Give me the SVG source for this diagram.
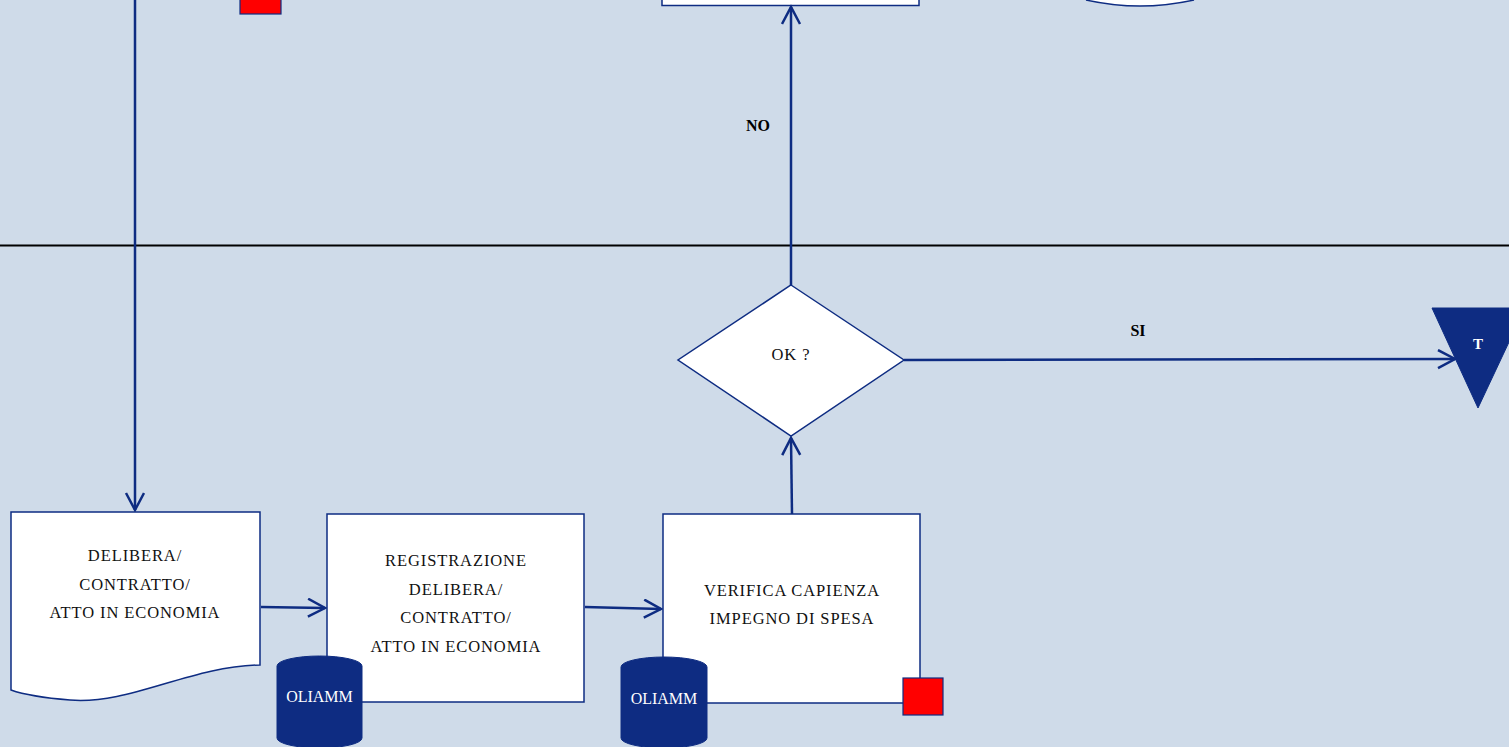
<svg xmlns="http://www.w3.org/2000/svg" width="1509" height="747" viewBox="0 0 1509 747">
<style>
.bg{fill:#CFDBE9}
.box{fill:#FFFFFF;stroke:#0E2C82;stroke-width:1.5}
.conn{fill:none;stroke:#0E2C82;stroke-width:2.5}
.lbl{font-family:"Liberation Serif",serif;font-size:16.5px;fill:#111111;text-anchor:middle;letter-spacing:0.9px}
.bold{font-family:"Liberation Serif",serif;font-size:16px;font-weight:bold;fill:#000;text-anchor:middle}
.db{fill:#0E2C82;stroke:#0E2C82;stroke-width:1}
.dbt{font-family:"Liberation Serif",serif;font-size:16px;fill:#FFFFFF;text-anchor:middle}
.red{fill:#FF0000;stroke:#0E2C82;stroke-width:1.2}
</style>
<defs>
<marker id="arr" markerUnits="userSpaceOnUse" markerWidth="24" markerHeight="24" refX="18" refY="10" orient="auto" viewBox="0 0 24 24">
<path d="M1,1 L18,10 L1,19" fill="none" stroke="#0E2C82" stroke-width="2.5"/>
</marker>
</defs>
<rect class="bg" x="0" y="0" width="1509" height="747"/>
<line x1="0" y1="245.5" x2="1509" y2="245.5" stroke="#000" stroke-width="2"/>

<g id="top-square"><rect class="red" x="240" y="-5" width="41" height="19"/></g>
<g id="top-box"><rect class="box" x="662" y="-10" width="257" height="15.5"/></g>
<g id="top-curve"><path d="M1086,0 Q1140,12 1194,0" fill="#FFFFFF" stroke="#0E2C82" stroke-width="1.5"/></g>

<g id="connectors">
<line class="conn" x1="135" y1="0" x2="135" y2="510" marker-end="url(#arr)"/>
<line class="conn" x1="791" y1="285" x2="791" y2="7" marker-end="url(#arr)"/>
<line class="conn" x1="904" y1="360" x2="1455" y2="359" marker-end="url(#arr)"/>
<line class="conn" x1="261" y1="607" x2="325" y2="608" marker-end="url(#arr)"/>
<line class="conn" x1="585" y1="607" x2="661" y2="609" marker-end="url(#arr)"/>
<line class="conn" x1="792" y1="514" x2="791" y2="438" marker-end="url(#arr)"/>
<text class="bold" x="758" y="131">NO</text>
<text class="bold" x="1138" y="336">SI</text>
</g>

<g id="decision">
<polygon class="box" points="791,285 904,360 791,436 678,360"/>
<text class="lbl" x="791" y="360" font-size="15">OK ?</text>
</g>

<g id="terminator">
<polygon points="1432,308 1525,308 1478,408" fill="#0E2C82" stroke="#0E2C82" stroke-width="1"/>
<text x="1478" y="349" font-family="Liberation Serif,serif" font-size="15" font-weight="bold" fill="#FFFFFF" text-anchor="middle">T</text>
</g>

<g id="document">
<path class="box" d="M11,512 L260,512 L260,665 C190,666 130,705 70,700 C45,698 25,695 11,690 Z"/>
<text class="lbl" x="135" y="561">DELIBERA/</text>
<text class="lbl" x="135" y="590">CONTRATTO/</text>
<text class="lbl" x="135" y="618">ATTO IN ECONOMIA</text>
</g>

<g id="registrazione">
<rect class="box" x="327" y="514" width="257" height="188"/>
<text class="lbl" x="456" y="566">REGISTRAZIONE</text>
<text class="lbl" x="456" y="595">DELIBERA/</text>
<text class="lbl" x="456" y="623">CONTRATTO/</text>
<text class="lbl" x="456" y="652">ATTO IN ECONOMIA</text>
</g>

<g id="db1">
<path class="db" d="M277,666 A42.5,10 0 0 1 362,666 L362,738 A42.5,10 0 0 1 277,738 Z"/>
<text class="dbt" x="319.5" y="702">OLIAMM</text>
</g>

<g id="verifica">
<rect class="box" x="663" y="514" width="257" height="189"/>
<text class="lbl" x="792" y="596">VERIFICA CAPIENZA</text>
<text class="lbl" x="792" y="624">IMPEGNO DI SPESA</text>
</g>

<g id="db2">
<path class="db" d="M621,667 A43,10 0 0 1 707,667 L707,738 A43,10 0 0 1 621,738 Z"/>
<text class="dbt" x="664" y="704">OLIAMM</text>
</g>

<g id="red-square"><rect class="red" x="903" y="678" width="40" height="37"/></g>
</svg>
